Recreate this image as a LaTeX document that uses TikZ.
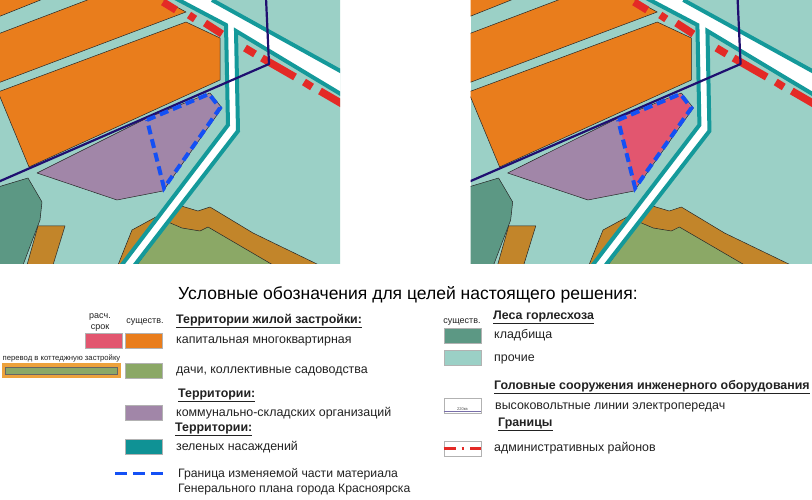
\documentclass[tikz,border=0pt]{standalone}
\usepackage{fontspec}
\setmainfont{Liberation Sans}
\definecolor{bgteal}{HTML}{9BD0C6}
\definecolor{orng}{HTML}{E97D1C}
\definecolor{purp}{HTML}{A186A8}
\definecolor{pinkc}{HTML}{E2566F}
\definecolor{forest}{HTML}{5C9884}
\definecolor{brownc}{HTML}{C2852A}
\definecolor{greenc}{HTML}{8BA866}
\definecolor{roadt}{HTML}{14999A}
\definecolor{navy2}{HTML}{1F0F70}
\definecolor{bluedash}{HTML}{1450F5}
\definecolor{redd}{HTML}{E42A26}
\definecolor{legt}{HTML}{0F9295}
\definecolor{txt}{HTML}{222222}
\definecolor{outerorg}{HTML}{EDA23C}
\tikzset{
  area/.style={draw=black!85,line width=0.5pt,line join=round},
  road/.style={draw=roadt,line width=4pt,line join=miter},
  redseg/.style={draw=redd,line width=7.5pt},
  navyl/.style={draw=navy2,line width=2.2pt,line join=round},
  bdash/.style={draw=bluedash,line width=4pt,dash pattern=on 9pt off 5pt,line join=miter},
  swatch/.style={draw=black!30,line width=0.6pt},
  item/.style={anchor=base west,inner sep=0pt,font=\fontsize{12.42}{14}\selectfont,text=txt},
  itemb/.style={anchor=base west,inner sep=0pt,font=\fontsize{12.2}{14}\selectfont,text=txt},
  head/.style={anchor=base west,inner sep=0pt,font=\fontsize{12.4}{14}\selectfont\bfseries,text=txt},
  small/.style={anchor=base,inner sep=0pt,font=\fontsize{9}{10}\selectfont,text=txt},
}
\newcommand{\mapdraw}[1]{%
  \fill[bgteal] (0,0) rectangle (342,264);
  \filldraw[fill=orng,area] (-2,-1) -- (43,-1) -- (-2,17) -- cycle;
  \filldraw[fill=orng,area] (-2,34) -- (90,-1) -- (162,-1) -- (186,12) -- (-2,83) -- cycle;
  \filldraw[fill=orng,area] (-2,92) -- (186,22) -- (220,38) -- (220,80) -- (29,167) -- (-2,92) -- cycle;
  \filldraw[fill=forest,area] (-2,187) -- (28,178) -- (42,202) -- (40,220) -- (23,265) -- (-2,265) -- cycle;
  \filldraw[fill=brownc,area] (38,226) -- (65,226) -- (53,265) -- (27,265) -- cycle;
  \filldraw[fill=brownc,area] (118,265) -- (132,230) -- (178,205) -- (198,211) -- (210,207) -- (253,233) -- (319,265) -- cycle;
  \filldraw[fill=greenc,area] (168,222) -- (182,228) -- (200,231) -- (208,227) -- (273,265) -- (137,265) -- cycle;
  \filldraw[fill=purp,area] (37,173) -- (147,118) -- (210,93) -- (222,108) -- (163,191) -- (117,200) -- cycle;
  #1
  \fill[white] (175,-2) -- (226,25) -- (228,125) -- (122,266) -- (134,266) -- (238,131) -- (236,31) -- (344,96) -- (344,73) -- (212,-2) -- cycle;
  \draw[road] (173,-3) -- (226,25) -- (228,125) -- (121,266);
  \draw[road] (212,0) -- (344,73);
  \draw[road] (344,96) -- (236,31) -- (238,131) -- (134,266);
  \draw[redseg] (163,2) -- (176,10);
  \draw[redseg] (189,15) -- (195,19);
  \draw[redseg] (205,23) -- (222,34);
  \draw[redseg] (245,48) -- (255,54);
  \draw[redseg] (262,58) -- (295,77);
  \draw[redseg] (304,82) -- (312,87);
  \draw[redseg] (320,91) -- (344,105);
  \draw[navyl] (-2,182) -- (269,64) -- (266,-2);
  \draw[bdash] (147,120) -- (209,94) -- (220,108) -- (164,188) -- cycle;
}
\begin{document}
\begin{tikzpicture}[x=1pt,y=-1pt]
\useasboundingbox (0,0) rectangle (812,500);
\fill[white] (0,0) rectangle (812,500);
\begin{scope}
  \clip (0,0) rectangle (340,263);
  \mapdraw{}
\end{scope}
\begin{scope}[shift={(470.5,0)},xscale=1.004]
  \clip (0,0) rectangle (342,263);
  \mapdraw{\fill[pinkc] (147,120) -- (209,94) -- (220,108) -- (164,188) -- cycle;}
\end{scope}
% title
\node[anchor=base west,inner sep=0pt,font=\fontsize{17.52}{20}\selectfont,text=black] (title) at (178,299) {Условные обозначения для целей настоящего решения:};
% left legend
\node[small] (lraschet) at (100,318) {расч.};
\node[small] (lsrok) at (100,329) {срок};
\node[small] (lsush1) at (145,323) {существ.};
\node[swatch,fill=pinkc,minimum width=37pt,minimum height=15pt,inner sep=0pt] (spink) at (103.5,340.5) {};
\node[swatch,fill=orng,minimum width=37pt,minimum height=15pt,inner sep=0pt] (sorange) at (144,340.5) {};
\node[anchor=base,inner sep=0pt,font=\fontsize{7.7}{9}\selectfont,text=txt] (lperevod) at (61.5,360) {перевод в коттеджную застройку};
\node[draw=none,fill=outerorg,minimum width=119pt,minimum height=15pt,inner sep=0pt] (sdouter) at (61.5,370.5) {};
\node[draw=black!60,line width=0.4pt,fill=greenc,minimum width=112pt,minimum height=7.5pt,inner sep=0pt] (sdinner) at (61.5,370.5) {};
\node[swatch,fill=greenc,minimum width=37pt,minimum height=15pt,inner sep=0pt] (sgreen) at (144,370.5) {};
\node[swatch,fill=purp,minimum width=37pt,minimum height=15pt,inner sep=0pt] (spurple) at (144,412.5) {};
\node[swatch,fill=legt,minimum width=37pt,minimum height=15pt,inner sep=0pt] (steal) at (144,447) {};
\coordinate (bl) at (115,473);
\coordinate (br) at (163,473);
\draw[draw=bluedash,line width=3pt,dash pattern=on 12pt off 6pt] (bl) -- (br);
\node[head] (h1) at (176,323) {\underline{Территории жилой застройки:}};
\node[item] (t1) at (176,343) {капитальная многоквартирная};
\node[item] (t2) at (176,373) {дачи, коллективные садоводства};
\node[head] (h2) at (178,397) {\underline{Территории:}};
\node[item] (t3) at (176,416) {коммунально-складских организаций};
\node[head] (h3) at (175,431) {\underline{Территории:}};
\node[item] (t4) at (176,450) {зеленых насаждений};
\node[itemb] (t5) at (178,477) {Граница изменяемой части материала};
\node[itemb] (t6) at (178,492) {Генерального плана города Красноярска};
% right legend
\node[small] (lsush2) at (462,323) {существ.};
\node[head] (h4) at (493,319) {\underline{Леса горлесхоза}};
\node[swatch,fill=forest,minimum width=37pt,minimum height=15pt,inner sep=0pt] (sforest) at (462.5,335.5) {};
\node[item] (t7) at (494,338) {кладбища};
\node[swatch,fill=bgteal,minimum width=37pt,minimum height=15pt,inner sep=0pt] (slight) at (462.5,357.5) {};
\node[item] (t8) at (494,361) {прочие};
\node[head] (h5) at (494,389) {\underline{Головные сооружения инженерного оборудования}};
\node[swatch,fill=white,minimum width=37pt,minimum height=15pt,inner sep=0pt] (sline) at (462.5,405.5) {};
\node[anchor=base,inner sep=0pt,font=\fontsize{4}{5}\selectfont,text=black!70] (l220) at (462.5,410) {220кв};
\draw[draw=navy2!60,line width=1pt] (sline.south west) ++(0,-1.5) -- ++(37,0);
\node[item] (t9) at (495,409) {высоковольтные линии электропередач};
\node[head] (h6) at (498,426) {\underline{Границы}};
\node[swatch,fill=white,minimum width=37pt,minimum height=15pt,inner sep=0pt] (sadmin) at (462.5,448.5) {};
\draw[draw=redd,line width=2.2pt,dash pattern=on 12pt off 6pt on 2.5pt off 6pt] (sadmin.west) -- (sadmin.east);
\node[item] (t10) at (494,451) {административных районов};
\end{tikzpicture}
\end{document}
